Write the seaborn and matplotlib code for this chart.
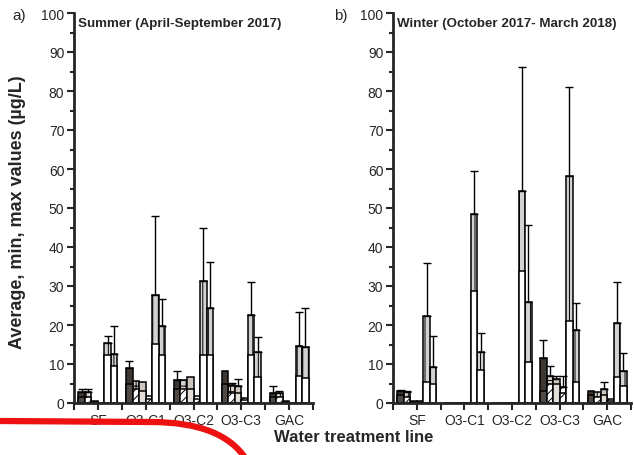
import numpy as np
import pandas as pd
import matplotlib
matplotlib.use("Agg")
import matplotlib.pyplot as plt
import seaborn as sns
from matplotlib.path import Path
from matplotlib.patches import PathPatch
from matplotlib.ticker import MultipleLocator, FixedLocator

# ---------------------------------------------------------------
# Dados (média, mínimo, máximo em µg/L)
# linhas = etapas de tratamento, colunas = 6 compostos
# ---------------------------------------------------------------
sites = ["SF", "O3-C1", "O3-C2", "O3-C3", "GAC"]
compounds = ["c1", "c2", "c3", "c4", "c5", "c6"]

summer_avg = [[2.7, 2.7, 0.5, 0.0, 15.3, 12.5],
              [9.0, 5.6, 5.3, 1.9, 27.7, 19.8],
              [5.9, 5.9, 6.6, 1.9, 31.3, 24.3],
              [8.2, 4.5, 4.3, 1.2, 22.6, 13.2],
              [2.6, 2.5, 0.5, 0.0, 14.7, 14.3]]
summer_min = [[1.5, 1.5, 0.3, 0.0, 12.3, 9.4],
              [5.0, 3.6, 3.0, 1.0, 15.1, 12.3],
              [3.5, 3.6, 3.5, 1.0, 12.3, 12.3],
              [5.0, 2.5, 2.5, 0.8, 12.3, 6.6],
              [1.5, 1.5, 0.3, 0.0, 7.0, 6.3]]
summer_max = [[3.6, 3.6, 0.5, 0.0, 17.1, 19.8],
              [10.7, 5.6, 5.3, 1.9, 48.0, 26.7],
              [8.1, 5.9, 6.6, 1.9, 44.9, 36.2],
              [8.2, 5.2, 6.2, 1.2, 30.9, 17.0],
              [4.4, 3.2, 0.5, 0.0, 23.4, 24.3]]

winter_avg = [[3.2, 2.9, 0.6, 0.5, 22.4, 9.3],
              [0.0, 0.0, 0.0, 0.0, 48.5, 13.2],
              [0.0, 0.0, 0.0, 0.0, 54.4, 25.8],
              [11.5, 6.8, 6.2, 4.0, 58.3, 18.8],
              [3.2, 2.7, 3.6, 0.9, 20.4, 8.3]]
winter_min = [[2.0, 1.5, 0.3, 0.3, 5.3, 5.0],
              [0.0, 0.0, 0.0, 0.0, 28.8, 8.5],
              [0.0, 0.0, 0.0, 0.0, 33.9, 10.6],
              [3.2, 4.9, 5.0, 2.5, 20.9, 5.5],
              [2.0, 1.5, 2.0, 0.5, 6.6, 4.4]]
winter_max = [[3.4, 3.2, 0.6, 0.5, 35.8, 17.1],
              [0.0, 0.0, 0.0, 0.0, 59.6, 17.9],
              [0.0, 0.0, 0.0, 0.0, 86.1, 45.7],
              [16.2, 9.6, 7.0, 7.0, 81.1, 25.6],
              [3.2, 2.7, 5.5, 0.9, 30.9, 12.7]]

# estilo de cada composto: (cor média, hachura média, cor mínimo, hachura mínimo)
avg_colors = ["#3d3833", "#d6d1cc", "#cdc6bd", "#ffffff", "#d2d2d2", "#d2d2d2"]
avg_hatch = ["", "+++", "", "////", "|||", "|||"]
min_colors = ["#4f4a45", "#ffffff", "#e2ddd6", "#ffffff", "#ffffff", "#ffffff"]
min_hatch = ["", "////", "", "////", "", ""]


def monta_tabela(avg, mn, mx):
    linhas = []
    for i, s in enumerate(sites):
        for j, c in enumerate(compounds):
            linhas.append({"site": s, "comp": c, "avg": avg[i][j], "min": mn[i][j], "max": mx[i][j]})
    return pd.DataFrame(linhas)


df_summer = monta_tabela(summer_avg, summer_min, summer_max)
df_winter = monta_tabela(winter_avg, winter_min, winter_max)

sns.set_style("ticks")
plt.rcParams["font.family"] = ["Liberation Sans", "DejaVu Sans"]
plt.rcParams["hatch.linewidth"] = 0.7

fig = plt.figure(figsize=(6.34, 4.56), dpi=100)
ax1 = fig.add_axes([74 / 634, 52 / 456, 239 / 634, 390 / 456])
ax2 = fig.add_axes([393 / 634, 52 / 456, 238 / 634, 390 / 456])


def desenha(ax, df, titulo):
    sns.barplot(data=df, x="site", y="avg", hue="comp", hue_order=compounds, order=sites,
                palette=avg_colors, width=0.82, errorbar=None, edgecolor="black",
                linewidth=1.1, saturation=1, legend=False, ax=ax)
    n_avg = len(ax.containers)
    sns.barplot(data=df, x="site", y="min", hue="comp", hue_order=compounds, order=sites,
                palette=min_colors, width=0.82, errorbar=None, edgecolor="black",
                linewidth=1.1, saturation=1, legend=False, ax=ax)
    for k, cont in enumerate(ax.containers[:n_avg]):
        for p in cont.patches:
            p.set_hatch(avg_hatch[k])
    for k, cont in enumerate(ax.containers[n_avg:]):
        for p in cont.patches:
            p.set_hatch(min_hatch[k])

    # barras de erro só para cima (média -> máximo)
    for k, cont in enumerate(ax.containers[:n_avg]):
        sub = df[df["comp"] == compounds[k]].set_index("site").loc[sites]
        xs = np.array([p.get_x() + p.get_width() / 2 for p in cont.patches])
        med = sub["avg"].to_numpy()
        mx = sub["max"].to_numpy()
        ok = mx > med + 0.05
        if ok.any():
            ax.errorbar(xs[ok], med[ok], yerr=[np.zeros(ok.sum()), (mx - med)[ok]], fmt="none",
                        ecolor="black", elinewidth=1, capsize=3, capthick=1, zorder=5)

    ax.set_ylim(0, 100)
    ax.set_xlim(-0.5, 4.5)
    ax.yaxis.set_major_locator(MultipleLocator(10))
    ax.yaxis.set_minor_locator(MultipleLocator(5))
    ax.xaxis.set_minor_locator(FixedLocator([-0.5, 0.5, 1.5, 2.5, 3.5, 4.5]))
    ax.tick_params(axis="both", which="major", length=5, width=1.5, labelsize=10, pad=2, direction="out")
    ax.tick_params(axis="both", which="minor", length=3, width=1.5, direction="out")
    ax.tick_params(axis="x", which="minor", length=5)
    ax.set_xlabel("")
    ax.set_ylabel("")
    for lado in ["left", "bottom"]:
        ax.spines[lado].set_linewidth(2)
    sns.despine(ax=ax)
    ax.text(0.015, 0.99, titulo, transform=ax.transAxes, fontsize=9.6, fontweight="bold",
            va="top", ha="left")


desenha(ax1, df_summer, "Summer (April-September 2017)")
desenha(ax2, df_winter, "Winter (October 2017- March 2018)")

fig.text(12 / 634, 1 - 16 / 456, "a)", fontsize=11, va="center", ha="left")
fig.text(334 / 634, 1 - 16 / 456, "b)", fontsize=11, va="center", ha="left")
fig.text(18 / 634, 1 - 212 / 456, "Average, min, max values (µg/L)", rotation=90,
         fontsize=13, fontweight="bold", ha="center", va="center")
fig.text(354 / 634, 1 - 438 / 456, "Water treatment line", fontsize=12, fontweight="bold",
         ha="center", va="center")

# traço vermelho à mão que aparece na figura original
pts = [(0, 422), (150, 423), (200, 423), (230, 436), (246, 460)]
verts = [(x / 634, 1 - y / 456) for x, y in pts]
codes = [Path.MOVETO, Path.LINETO, Path.CURVE4, Path.CURVE4, Path.CURVE4]
fig.add_artist(PathPatch(Path(verts, codes), transform=fig.transFigure, facecolor="none",
                         edgecolor="#ee1111", linewidth=4.5, capstyle="butt"))

fig.savefig("out.png", dpi=100)
